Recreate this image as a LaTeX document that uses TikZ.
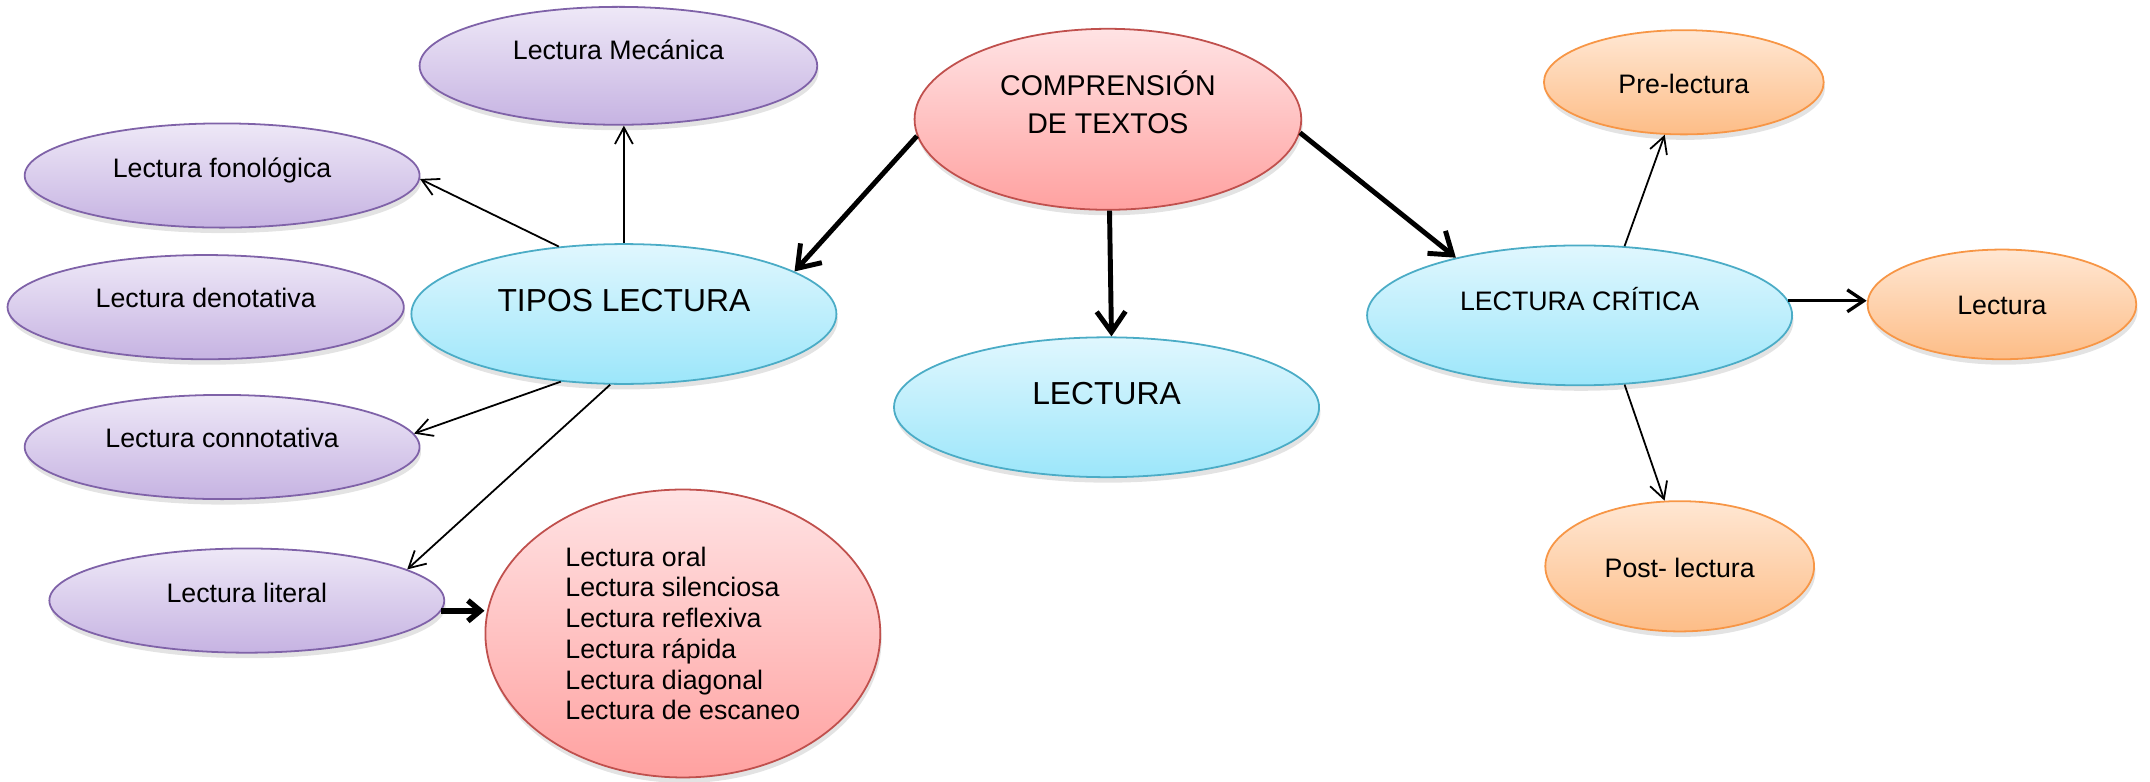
\documentclass[tikz,border=0pt]{standalone}
\usepackage{fontspec}
\setmainfont{Liberation Sans}
\usetikzlibrary{shapes.geometric,shadows,arrows.meta}
\definecolor{purpT}{HTML}{EEE8F7}
\definecolor{purpB}{HTML}{C6B3E2}
\definecolor{purpD}{HTML}{7F62A8}
\definecolor{blueT}{HTML}{E0F7FE}
\definecolor{blueB}{HTML}{9CE6FA}
\definecolor{blueD}{HTML}{4BACC6}
\definecolor{redT}{HTML}{FFE3E4}
\definecolor{redB}{HTML}{FFA1A0}
\definecolor{redD}{HTML}{C0504D}
\definecolor{oraT}{HTML}{FFE7D3}
\definecolor{oraB}{HTML}{FDBD87}
\definecolor{oraD}{HTML}{F79646}
\tikzset{
  oval/.style={ellipse, inner sep=0pt, line width=1.3pt,
    drop shadow={opacity=0.22, shadow xshift=1pt, shadow yshift=-4pt}},
  purp/.style={oval, draw=purpD, top color=purpT, bottom color=purpB},
  blu/.style={oval, draw=blueD, top color=blueT, bottom color=blueB},
  rd/.style={oval, draw=redD, top color=redT, bottom color=redB},
  ora/.style={oval, draw=oraD, top color=oraT, bottom color=oraB},
  lbl/.style={inner sep=0pt, yshift=-3.5pt, font=\fontsize{19.5}{23}\selectfont, text height=0.72em, text depth=0pt},
  lblbig/.style={inner sep=0pt, yshift=-4.5pt, font=\fontsize{23.2}{28}\selectfont, text height=0.72em, text depth=0pt},
  thin/.style={line width=1.3pt, -{Straight Barb[length=12pt,width=13pt]}},
  thick/.style={line width=3.6pt, -{Straight Barb[length=15pt,width=21pt]}},
  mid/.style={line width=2.4pt, -{Straight Barb[length=12pt,width=16pt]}},
}
\begin{document}
\begin{tikzpicture}[x=1pt,y=-1pt]
\useasboundingbox (0,0) rectangle (1568,570);
% purple nodes
\node[purp, minimum width=290, minimum height=86] (mec) at (451,48) {};
\node[lbl] (mecT) at (451,36) {Lectura Mecánica};
\node[purp, minimum width=288, minimum height=76] (fon) at (162,128) {};
\node[lbl] (fonT) at (162,122) {Lectura fonológica};
\node[purp, minimum width=289, minimum height=76] (den) at (150,224) {};
\node[lbl] (denT) at (150,217) {Lectura denotativa};
\node[purp, minimum width=288, minimum height=76] (con) at (162,326) {};
\node[lbl] (conT) at (162,319) {Lectura connotativa};
\node[purp, minimum width=288, minimum height=76] (lit) at (180,438) {};
\node[lbl] (litT) at (180,432) {Lectura literal};
% blue nodes
\node[blu, minimum width=310, minimum height=102] (tipos) at (455,229) {};
\node[lblbig] (tiposT) at (455,219) {TIPOS LECTURA};
\node[blu, minimum width=310, minimum height=102] (lect) at (807,297) {};
\node[lblbig] (lectT) at (807,287) {LECTURA};
\node[blu, minimum width=310, minimum height=102] (crit) at (1152,230) {};
\node[lbl] (critT) at (1152,219) {LECTURA CRÍTICA};
% red nodes
\node[rd, minimum width=282, minimum height=132] (comp) at (808,87) {};
\node[inner sep=0pt, align=center, font=\fontsize{20.8}{28}\selectfont] (compT) at (808,74.5)
  {COMPRENSIÓN\\DE TEXTOS};
\node[rd, minimum width=288, minimum height=210, align=left,
  font=\fontsize{19.5}{22.4}\selectfont] (list) at (498,462)
  {Lectura oral\\Lectura silenciosa\\Lectura reflexiva\\Lectura rápida\\Lectura diagonal\\Lectura de escaneo};
% orange nodes
\node[ora, minimum width=204, minimum height=76] (pre) at (1228,60) {};
\node[lbl] (preT) at (1228,61) {Pre-lectura};
\node[ora, minimum width=196, minimum height=80] (lec) at (1460,222) {};
\node[lbl] (lecT) at (1460,222) {Lectura};
\node[ora, minimum width=196, minimum height=95] (post) at (1225,413) {};
\node[lbl] (postT) at (1225,414) {Post- lectura};
% connectors
\draw[thin] (tipos.north) -- (tipos.north |- mec.south);
\draw[thin] (tipos.134) -- (fon.-1);
\draw[thin] (tipos.227) -- (con.4);
\draw[thin] (tipos.259) -- (lit.11);
\draw[thick] (comp.185) -- (tipos.14);
\draw[thick] (comp.-89) -- (lect.86);
\draw[thick] (comp.-4) -- (crit.155);
\draw[thin] (crit.57) -- (pre.-110);
\draw[mid] (crit.4) -- (crit.4 -| lec.west);
\draw[thin] (crit.-57) -- (post.103);
\draw[line width=4pt, -{Straight Barb[length=9pt,width=15pt]}] (lit.-3) -- (lit.-3 -| list.west);
\end{tikzpicture}
\end{document}
